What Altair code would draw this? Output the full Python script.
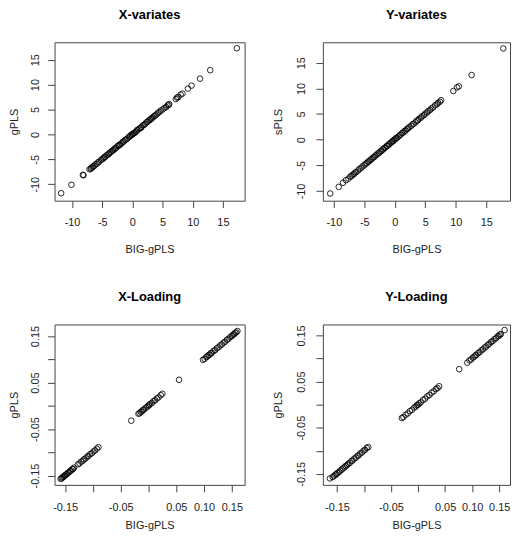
import altair as alt
import pandas as pd

# ---------------- data ----------------
xv_big = [-11.8, -10.1, -8.2, -8.1, -7.1, -6.9, -6.8, -6.6, -6.5, -6.3, -6.1, -5.9, -5.7, -5.5,
          -5.2, -5.0, -4.8, -4.7, -4.5, -4.3, -4.1, -3.9, -3.8, -3.6, -3.4, -3.2, -3.0, -2.9,
          -2.7, -2.5, -2.3, -2.2, -2.0, -1.8, -1.6, -1.4, -1.2, -1.0, -0.8, -0.6, -0.4, -0.3,
          -0.1, 0.0, 0.1, 0.3, 0.5, 0.6, 0.8, 1.0, 1.2, 1.4, 1.5, 1.7, 1.9, 2.1, 2.3, 2.5,
          2.7, 2.9, 3.1, 3.2, 3.4, 3.6, 3.8, 4.0, 4.2, 4.5, 4.7, 5.0, 5.3, 5.6, 5.8, 6.0,
          6.1, 7.2, 7.4, 7.6, 8.0, 8.3, 9.2, 9.8, 11.2, 12.9, 17.3]
xv_gpls = [-11.8, -10.1, -8.1, -8.2, -7.0, -6.9, -6.7, -6.6, -6.4, -6.3, -6.0, -5.9, -5.6, -5.5,
           -5.1, -5.0, -4.8, -4.6, -4.5, -4.2, -4.1, -3.9, -3.7, -3.6, -3.3, -3.2, -3.0, -2.8,
           -2.7, -2.4, -2.3, -2.1, -2.0, -1.8, -1.5, -1.4, -1.1, -1.0, -0.8, -0.5, -0.4, -0.2,
           -0.1, 0.1, 0.1, 0.3, 0.4, 0.6, 0.9, 1.0, 1.2, 1.3, 1.5, 1.8, 1.9, 2.1, 2.4, 2.5,
           2.8, 2.9, 3.1, 3.3, 3.4, 3.7, 3.8, 4.0, 4.3, 4.5, 4.8, 5.0, 5.3, 5.5, 5.8, 5.9,
           6.1, 7.1, 7.4, 7.5, 8.0, 8.2, 9.2, 9.8, 11.2, 12.9, 17.3]

yv_big = [-10.6, -9.2, -8.5, -8.0, -7.6, -7.3, -7.1, -6.9, -6.7, -6.5, -6.3, -6.0, -5.8, -5.5,
          -5.3, -5.0, -4.8, -4.6, -4.4, -4.2, -4.0, -3.8, -3.6, -3.4, -3.2, -3.0, -2.8, -2.6,
          -2.4, -2.2, -2.0, -1.9, -1.7, -1.5, -1.3, -1.2, -1.0, -0.9, -0.7, -0.5, -0.4, -0.2,
          -0.1, 0.1, 0.2, 0.4, 0.6, 0.8, 1.0, 1.2, 1.4, 1.6, 1.8, 2.0, 2.2, 2.4, 2.7, 2.9,
          3.1, 3.4, 3.6, 3.8, 4.0, 4.3, 4.5, 4.8, 5.0, 5.3, 5.5, 5.8, 6.0, 6.3, 6.6, 6.9,
          7.1, 7.4, 7.6, 9.6, 10.2, 10.5, 12.6, 17.8]
yv_spls = [-10.5, -9.2, -8.4, -7.9, -7.6, -7.2, -7.1, -6.8, -6.7, -6.4, -6.3, -6.0, -5.7, -5.5,
           -5.2, -5.0, -4.7, -4.6, -4.3, -4.2, -3.9, -3.8, -3.5, -3.4, -3.1, -3.0, -2.7, -2.6,
           -2.3, -2.2, -1.9, -1.9, -1.6, -1.5, -1.2, -1.2, -0.9, -0.9, -0.6, -0.5, -0.3, -0.2,
           0.0, 0.1, 0.3, 0.4, 0.6, 0.9, 1.0, 1.3, 1.4, 1.7, 1.8, 2.1, 2.2, 2.5, 2.7, 3.0,
           3.1, 3.4, 3.7, 3.8, 4.1, 4.3, 4.6, 4.8, 5.1, 5.3, 5.6, 5.8, 6.1, 6.3, 6.7, 6.9,
           7.2, 7.4, 7.7, 9.5, 10.2, 10.4, 12.6, 17.8]

xl_big = [-0.158, -0.156, -0.155, -0.153, -0.152, -0.150, -0.149, -0.147, -0.145, -0.143,
          -0.141, -0.139, -0.137, -0.136, -0.134, -0.127, -0.124, -0.121, -0.118, -0.116,
          -0.113, -0.110, -0.108, -0.105, -0.102, -0.099, -0.096, -0.093, -0.090, -0.031,
          -0.018, -0.016, -0.014, -0.012, -0.010, -0.008, -0.005, -0.002, 0.000, 0.001,
          0.003, 0.006, 0.009, 0.012, 0.015, 0.018, 0.022, 0.025, 0.055, 0.098, 0.101,
          0.104, 0.106, 0.108, 0.110, 0.112, 0.114, 0.117, 0.120, 0.123, 0.126, 0.129,
          0.132, 0.135, 0.138, 0.141, 0.144, 0.147, 0.150, 0.152, 0.154, 0.156, 0.158, 0.160]
xl_gpls = [-0.157, -0.156, -0.154, -0.153, -0.151, -0.150, -0.148, -0.147, -0.144, -0.143,
           -0.140, -0.139, -0.136, -0.136, -0.133, -0.126, -0.124, -0.120, -0.118, -0.115,
           -0.113, -0.109, -0.108, -0.104, -0.102, -0.098, -0.096, -0.092, -0.089, -0.032,
           -0.017, -0.016, -0.013, -0.012, -0.009, -0.008, -0.004, -0.002, 0.001, 0.001,
           0.004, 0.006, 0.010, 0.012, 0.016, 0.018, 0.023, 0.026, 0.056, 0.099, 0.101,
           0.105, 0.106, 0.109, 0.110, 0.113, 0.114, 0.118, 0.120, 0.124, 0.126, 0.130,
           0.132, 0.136, 0.138, 0.142, 0.144, 0.148, 0.150, 0.153, 0.154, 0.157, 0.158, 0.161]

yl_big = [-0.163, -0.158, -0.156, -0.153, -0.151, -0.149, -0.146, -0.144, -0.141, -0.139,
          -0.136, -0.134, -0.131, -0.129, -0.126, -0.123, -0.121, -0.118, -0.115, -0.112,
          -0.110, -0.107, -0.104, -0.101, -0.098, -0.095, -0.092, -0.030, -0.027, -0.023,
          -0.019, -0.015, -0.011, -0.007, -0.004, -0.002, 0.000, 0.002, 0.005, 0.009,
          0.013, 0.017, 0.021, 0.025, 0.029, 0.033, 0.036, 0.039, 0.076, 0.091, 0.095,
          0.098, 0.101, 0.104, 0.106, 0.108, 0.111, 0.114, 0.117, 0.120, 0.123, 0.126,
          0.129, 0.132, 0.135, 0.138, 0.141, 0.144, 0.147, 0.149, 0.151, 0.153, 0.160]
yl_gpls = [-0.160, -0.157, -0.155, -0.152, -0.151, -0.148, -0.146, -0.143, -0.141, -0.138,
           -0.136, -0.133, -0.131, -0.128, -0.126, -0.122, -0.121, -0.117, -0.115, -0.111,
           -0.110, -0.106, -0.104, -0.100, -0.098, -0.094, -0.092, -0.029, -0.027, -0.022,
           -0.019, -0.014, -0.011, -0.006, -0.004, -0.001, 0.000, 0.003, 0.005, 0.010,
           0.013, 0.018, 0.021, 0.026, 0.029, 0.034, 0.036, 0.040, 0.077, 0.091, 0.096,
           0.098, 0.102, 0.104, 0.107, 0.108, 0.112, 0.114, 0.118, 0.120, 0.124, 0.126,
           0.130, 0.132, 0.136, 0.138, 0.142, 0.144, 0.148, 0.149, 0.152, 0.153, 0.162]

titles = ["X-variates", "Y-variates", "X-Loading", "Y-Loading"]
y_titles = ["gPLS", "sPLS", "gPLS", "gPLS"]
x_title = "BIG-gPLS"
ticks_var = [-10, -5, 0, 5, 10, 15]
ticks_load = [-0.15, -0.10, -0.05, 0.0, 0.05, 0.10, 0.15]

FONT = "Liberation Sans"
INK = "#222222"
BOX = "#444444"

lab_var = "(datum.value < 0 ? '-' : '') + abs(datum.value)"
lab_load_x = ("abs(datum.value + 0.1) < 1e-6 || abs(datum.value) < 1e-6 ? '' : "
              "(datum.value < 0 ? '-' : '') + format(abs(datum.value), '.2f')")
lab_load_y = ("abs(datum.value + 0.1) < 1e-6 || abs(datum.value) < 1e-6 || abs(datum.value - 0.1) < 1e-6 ? '' : "
              "(datum.value < 0 ? '-' : '') + format(abs(datum.value), '.2f')")


def panel(xs, ys, title, ytitle, xdom, ydom, ticks, xexpr, yexpr, w, h,
          ylabpad, ytitpad, xlabpad, xtitpad):
    df = pd.DataFrame({"x": xs, "y": ys})
    common = dict(
        grid=False, domain=False, ticks=True, tickSize=7, tickColor=BOX, tickWidth=1,
        labelFont=FONT, labelFontSize=11, labelColor=INK,
        titleFont=FONT, titleFontSize=11, titleColor=INK, titleFontWeight="normal",
        values=ticks,
    )
    return alt.Chart(df).mark_point(
        shape="circle", filled=False, size=32, stroke="black", strokeWidth=1, opacity=0.85
    ).encode(
        x=alt.X("x:Q", scale=alt.Scale(domain=xdom, zero=False, nice=False),
                axis=alt.Axis(title=x_title, labelExpr=xexpr, labelPadding=xlabpad,
                              titlePadding=xtitpad, labelFlush=False, labelOverlap=False, **common)),
        y=alt.Y("y:Q", scale=alt.Scale(domain=ydom, zero=False, nice=False),
                axis=alt.Axis(title=ytitle, labelExpr=yexpr, labelAngle=270, labelAlign="center",
                              labelBaseline="bottom", labelPadding=ylabpad, titlePadding=ytitpad,
                              labelFlush=False, labelOverlap=False, **common)),
    ).properties(
        width=w, height=h,
        title=alt.TitleParams(title, font=FONT, fontSize=13, fontWeight="bold", color="black",
                              anchor="middle", baseline="top", offset=21),
    )


p1 = panel(xv_big, xv_gpls, titles[0], y_titles[0], [-12.9, 18.6], [-13.3, 18.5],
           ticks_var, lab_var, lab_var, 192, 160, 7, 10, 9, 16)
p2 = panel(yv_big, yv_spls, titles[1], y_titles[1], [-11.8, 18.9], [-11.9, 19.0],
           ticks_var, lab_var, lab_var, 189, 160, 10, 12, 9, 16)
p3 = panel(xl_big, xl_gpls, titles[2], y_titles[2], [-0.169, 0.173], [-0.170, 0.175],
           ticks_load, lab_load_x, lab_load_y, 192, 162, 7, 10, 10, 7)
p4 = panel(yl_big, yl_gpls, titles[3], y_titles[3], [-0.176, 0.170], [-0.174, 0.174],
           ticks_load, lab_load_x, lab_load_y, 189, 162, 10, 12, 10, 7)

chart = alt.concat(p1, p2, p3, p4, columns=2, spacing={"row": 125, "column": 79},
                   bounds="flush").properties(
    padding={"top": -3, "left": 0, "right": 0, "bottom": 0}, background="white"
).configure_view(stroke=BOX, strokeWidth=1)

chart.save("out.html", embed_options={"renderer": "svg", "actions": False})
